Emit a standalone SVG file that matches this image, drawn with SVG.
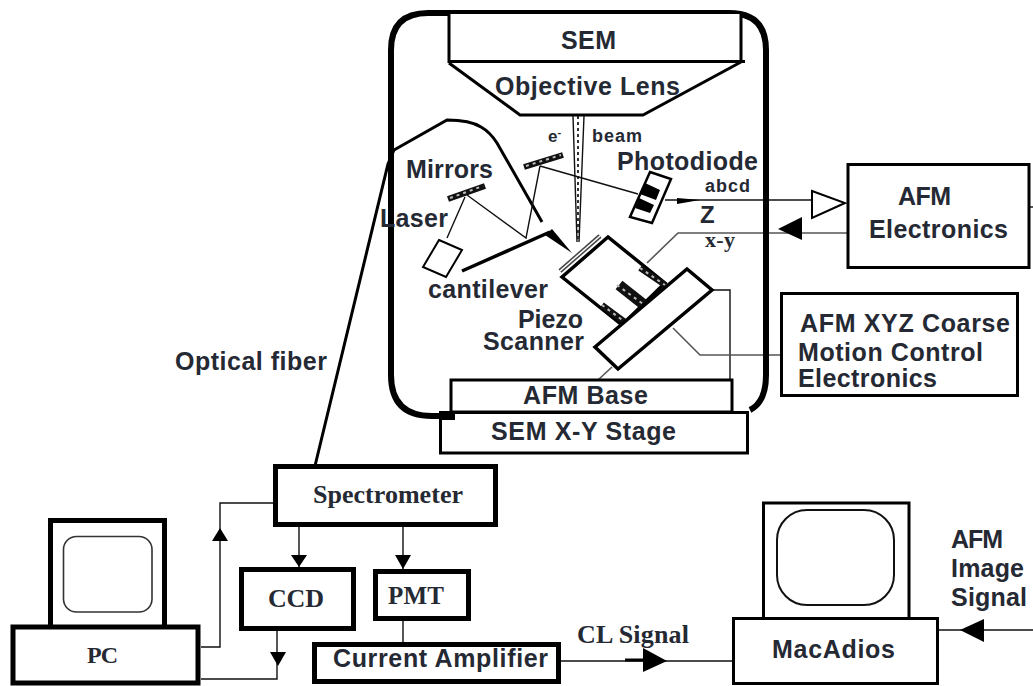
<svg xmlns="http://www.w3.org/2000/svg" width="1033" height="686" viewBox="0 0 1033 686">
<style>
text{font-family:"Liberation Sans",Arial,sans-serif;font-weight:bold;fill:#252933;font-size:25px}
.sf{font-family:"Liberation Serif","Times New Roman",serif}
.box{fill:#fff;stroke:#000}
.ln{fill:none;stroke:#111;stroke-width:1.400}
.gr{fill:none;stroke:#555;stroke-width:1.600}
.mid{fill:none;stroke:#000;stroke-width:3}
.ah{fill:#000;stroke:none}
.pad{stroke:#111;stroke-width:6;fill:none}
.dots{stroke:#bbb;stroke-width:2;stroke-dasharray:3 4;fill:none}
</style>
<rect width="1033" height="686" fill="#fff"/>
<g id="connectors">
<path class="mid" d="M314 470L388 164L394 150L447 120Q470 120 481 127Q490 132 497 143L542 222"/>
<path class="ln" d="M573 116L577 242M584 116L579 242"/>
<path d="M578 116L578 240" fill="none" stroke="#333" stroke-width="2" stroke-dasharray="3 3"/>
<path class="ln" d="M540 166L638 194M540 166L526 238L467 195M465 197L447 238"/>
<path class="ln" d="M665 200H812"/>
<path class="ah" d="M677 198L700 200L677 204Z"/>
<path class="gr" d="M647 263L678 233H847"/>
<path class="ah" d="M778 229L802 217V240Z"/>
<path class="ln" d="M712 290H730V380"/>
<path class="gr" d="M673 328L700 355H781"/>
<path class="gr" d="M612 367L598 380"/>
<path class="ln" d="M1029 207H1033"/>
<path class="ln" d="M276 503H220V647H201"/>
<path class="ah" d="M220 528L228 541H212Z"/>
<path class="ln" d="M299 527V567M403 527V569M403 620V642"/>
<path class="ah" d="M291 555H307L299 567ZM395 555H411L403 569Z"/>
<path class="ln" d="M277 631V679H201"/>
<path class="ah" d="M270 652H286L278 666Z"/>
<path class="ln" d="M561 661H735M933 630H1033"/>
<path d="M625 660H645" stroke="#000" stroke-width="3" fill="none"/>
<path class="ah" d="M643 648L667 661L643 672ZM960 630L984 619V642Z"/>
</g>
<g id="chamber">
<path fill="none" stroke="#000" stroke-width="6" d="M445 416H432Q391 416 391 375V50Q391 13 428 13H729Q766 13 766 50V375Q766 402 750 410"/>
</g>
<g id="sem">
<path fill="#fff" stroke="#000" stroke-width="3" d="M449 14V61.500H741V14"/>
<path fill="none" stroke="#000" stroke-width="3" d="M741 61.500H745M449 63L520 115H643L741 62"/>
<text x="561" y="49" textLength="55">SEM</text>
<text x="495" y="95" textLength="185">Objective Lens</text>
<text x="548" y="142" style="font-size:17px">e<tspan dy="-6" style="font-size:11px">-</tspan></text>
<text x="592" y="142" textLength="50" style="font-size:18px">beam</text>
</g>
<g id="optics">
<path class="pad" d="M524 167L563 155M448 199L485 186"/>
<path class="dots" d="M526 166L561 155M450 198L483 186"/>
<path fill="#fff" stroke="#000" stroke-width="2.500" d="M650 172L671 179L652 223L630 217Z"/>
<path d="M645 183L660 190L656 200L640 194ZM639 198L654 205L650 213L635 208Z" fill="#000"/>
<path fill="#fff" stroke="#000" stroke-width="2" d="M439 240L462 250L446 277L423 267Z"/>
<path fill="none" stroke="#000" stroke-width="3.500" d="M462 271L550 232"/>
<path class="ah" d="M545 235L552 229L572 253Z"/>
<text x="617" y="170" textLength="141">Photodiode</text>
<text x="705" y="192" textLength="45" style="font-size:18px">abcd</text>
<text x="700" y="223" style="font-size:24px">Z</text>
<text class="sf" x="705" y="247" textLength="30" style="font-size:22px">x-y</text>
<text x="406" y="178" textLength="87">Mirrors</text>
<text x="380" y="227" textLength="68">Laser</text>
<text x="428" y="298" textLength="120">cantilever</text>
</g>
<g id="piezo-scanner">
<path fill="none" stroke="#444" stroke-width="4.500" d="M560 271L600 236"/>
<path fill="none" stroke="#fff" stroke-width="1.500" d="M560 271L600 236"/>
<path fill="#fff" stroke="#000" stroke-width="3.500" d="M562 277L608 237L665 283L622 325Z"/>
<path class="pad" d="M640 268L665 285M602 305L625 322"/>
<path stroke="#111" stroke-width="11" fill="none" d="M619 285L643 304"/>
<path class="dots" d="M640 268L665 285M602 305L625 322M617 285L643 304"/>
<path fill="#fff" stroke="#000" stroke-width="3.500" d="M687 269L712 290L618 369L595 347Z"/>
<text x="518" y="328" textLength="65">Piezo</text>
<text x="483" y="350" textLength="101">Scanner</text>
</g>
<g id="afm-base">
<rect class="box" x="451" y="380" width="281" height="32" stroke-width="3"/>
<text x="523" y="404" textLength="125">AFM Base</text>
</g>
<g id="sem-stage">
<rect class="box" x="440.500" y="412.500" width="307" height="40.500" stroke-width="3"/>
<rect x="440" y="412" width="15" height="8" fill="#000"/>
<text x="491" y="440" textLength="185">SEM X-Y Stage</text>
</g>
<g id="afm-electronics">
<path fill="#fff" stroke="#000" stroke-width="2" d="M812 191L845 203L812 218Z"/>
<rect class="box" x="848" y="164.500" width="181" height="103" stroke-width="3"/>
<text x="898" y="205" textLength="53">AFM</text>
<text x="869" y="238" textLength="139">Electronics</text>
</g>
<g id="coarse-control">
<rect class="box" x="781.500" y="293.500" width="236" height="102" stroke-width="3"/>
<text x="800" y="332" textLength="210">AFM XYZ Coarse</text>
<text x="798" y="361" textLength="185">Motion Control</text>
<text x="798" y="387" textLength="139">Electronics</text>
</g>
<text x="175" y="370" textLength="152">Optical fiber</text>
<g id="spectrometer">
<rect class="box" x="275.500" y="466.500" width="220" height="58" stroke-width="5"/>
<text class="sf" x="313" y="503" textLength="150" style="font-size:26px">Spectrometer</text>
</g>
<g id="ccd">
<rect class="box" x="241.500" y="569.500" width="112" height="59" stroke-width="5"/>
<text class="sf" x="268" y="607" textLength="56" style="font-size:26px">CCD</text>
</g>
<g id="pmt">
<rect class="box" x="375.500" y="571.500" width="93" height="47" stroke-width="5"/>
<text class="sf" x="388" y="604" textLength="56" style="font-size:25px">PMT</text>
</g>
<g id="current-amplifier">
<rect class="box" x="314.500" y="644.500" width="244" height="37" stroke-width="5"/>
<text x="333" y="667" textLength="215">Current Amplifier</text>
</g>
<g id="pc">
<rect class="box" x="50.500" y="520.500" width="114" height="107" stroke-width="5"/>
<rect x="63.500" y="536.500" width="88.500" height="75.500" rx="13" fill="#fff" stroke="#333" stroke-width="1.600"/>
<rect class="box" x="13" y="627" width="185" height="56" stroke-width="5"/>
<text class="sf" x="87" y="663" textLength="31" style="font-size:24px">PC</text>
</g>
<g id="macadios">
<rect class="box" x="763.500" y="503" width="145.500" height="116" stroke-width="3"/>
<rect x="777" y="510" width="117" height="95" rx="30" fill="#fff" stroke="#111" stroke-width="2"/>
<rect class="box" x="733.500" y="618.500" width="204" height="65" stroke-width="3"/>
<text x="772" y="658" textLength="123">MacAdios</text>
</g>
<g id="signal-labels">
<text class="sf" x="577" y="643" textLength="112" style="font-size:26px">CL Signal</text>
<text x="951" y="548" textLength="52">AFM</text>
<text x="951" y="577" textLength="73">Image</text>
<text x="951" y="606" textLength="76">Signal</text>
</g>
</svg>
